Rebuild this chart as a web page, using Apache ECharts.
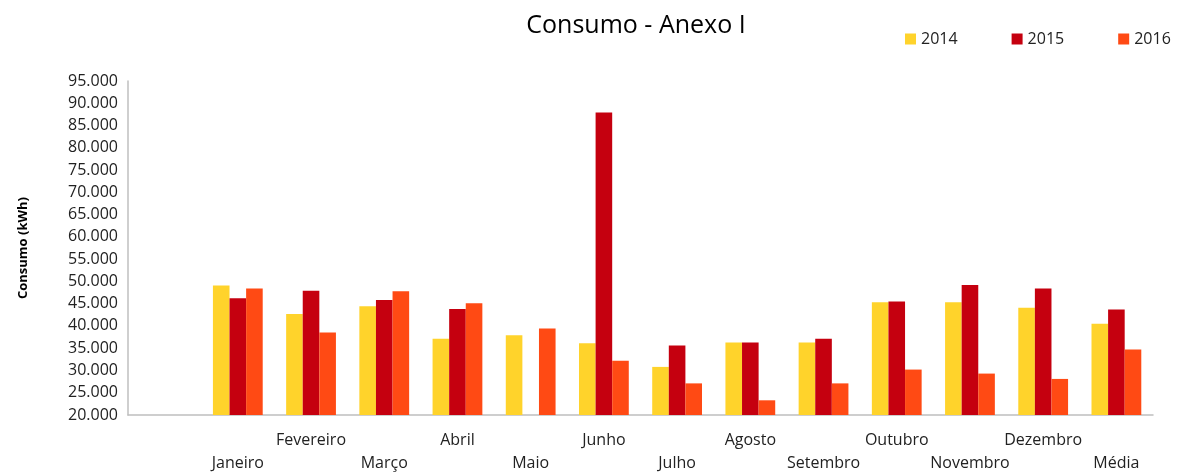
<!DOCTYPE html>
<html>
<head>
<meta charset="utf-8">
<script src="https://cdn.jsdelivr.net/npm/echarts@6/dist/echarts.min.js"></script>
<style>
  html, body { margin: 0; padding: 0; background: #fff; }
  #chart { width: 1182px; height: 475px; }
</style>
</head>
<body>
<div id="chart"></div>
<script>
// first slot is left empty, like the original sheet
const months = ['', 'Janeiro', 'Fevereiro', 'Março', 'Abril', 'Maio', 'Junho', 'Julho',
  'Agosto', 'Setembro', 'Outubro', 'Novembro', 'Dezembro', 'Média'];
const years = ['2014', '2015', '2016'];
const v2014 = [null, 49100, 42700, 44400, 37100, 37900, 36100, 30800, 36300, 36300, 45300, 45300, 44100, 40500];
const v2015 = [null, 46200, 47900, 45800, 43800, null, 87900, 35600, 36300, 37100, 45500, 49200, 48400, 43700];
const v2016 = [null, 48400, 38500, 47800, 45100, 39400, 32200, 27100, 23300, 27100, 30200, 29300, 28100, 34700];
const colors = ['#FFD32B', '#C5000F', '#FF4A14'];

const font = '"Open Sans", sans-serif';
const fmt = v => String(v).replace(/\B(?=(\d{3})+(?!\d))/g, '.');

const chart = echarts.init(document.getElementById('chart'));
chart.setOption({
  animation: false,
  color: colors,
  textStyle: { fontFamily: font },
  title: {
    text: 'Consumo - Anexo I',
    left: 631,
    textAlign: 'center',
    top: 8,
    textStyle: { fontFamily: font, fontSize: 25, fontWeight: 'normal', color: '#000' }
  },
  legend: {
    data: years,
    left: 900,
    top: 26,
    itemWidth: 11,
    itemHeight: 11,
    itemGap: 54,
    icon: 'rect',
    textStyle: { fontFamily: font, fontSize: 16, color: '#222' }
  },
  grid: { left: 128, right: 29, top: 81, bottom: 57 },
  xAxis: {
    type: 'category',
    data: months,
    axisLine: { lineStyle: { color: '#bfbfbf', width: 1.5 } },
    axisTick: { show: false },
    axisLabel: {
      interval: 0,
      margin: 14,
      fontFamily: font,
      fontSize: 16,
      color: '#222',
      lineHeight: 23,
      formatter: (v, i) => (i % 2 === 1 ? '\n' + v : v)
    }
  },
  yAxis: {
    type: 'value',
    min: 20000,
    max: 95000,
    interval: 5000,
    name: 'Consumo (kWh)',
    nameLocation: 'middle',
    nameGap: 98,
    nameTextStyle: { fontFamily: font, fontSize: 13, fontWeight: 'bold', color: '#000' },
    axisLine: { show: true, lineStyle: { color: '#bfbfbf', width: 1.5 } },
    axisTick: { show: false },
    splitLine: { show: false },
    axisLabel: {
      margin: 10,
      fontFamily: font,
      fontSize: 16,
      color: '#222',
      formatter: v => fmt(v)
    }
  },
  series: [
    { name: years[0], type: 'bar', data: v2014, barGap: '0%', barCategoryGap: '32%' },
    { name: years[1], type: 'bar', data: v2015, barGap: '0%', barCategoryGap: '32%' },
    { name: years[2], type: 'bar', data: v2016, barGap: '0%', barCategoryGap: '32%' }
  ]
});
</script>
</body>
</html>
